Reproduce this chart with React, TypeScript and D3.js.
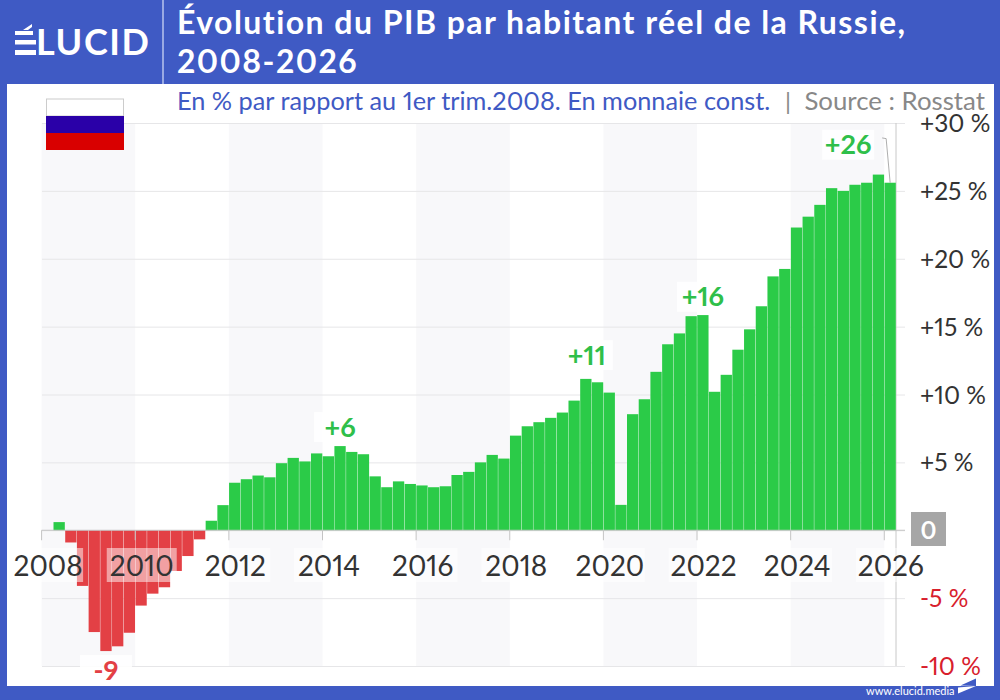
import * as d3 from "d3";
import { useEffect, useRef } from "react";

const years = [2008, 2010, 2012, 2014, 2016, 2018, 2020, 2022, 2024, 2026];
const quarters = d3.range(2008, 2027).flatMap((y) =>
  ["Q1", "Q2", "Q3", "Q4"].map((q) => `${y}${q}`)
).slice(0, 73);
const values = [
  0, 0.6, -0.9, -4.1,
  -7.5, -8.9, -8.55, -7.55,
  -5.55, -4.67, -4.2, -3.0,
  -1.9, -0.67, 0.7, 1.85,
  3.5, 3.76, 4.03, 3.9,
  4.94, 5.33, 5.07, 5.66,
  5.45, 6.2, 5.77, 5.6,
  3.97, 3.17, 3.6, 3.41,
  3.3, 3.17, 3.24, 4.07,
  4.3, 5.0, 5.55, 5.28,
  6.97, 7.66, 7.96, 8.28,
  8.67, 9.55, 11.15, 10.9,
  10.14, 1.87, 8.55, 9.65,
  11.67, 13.7, 14.5, 15.77,
  15.85, 10.2, 11.45, 13.3,
  14.8, 16.5, 18.7, 19.25,
  22.3, 23.1, 23.97, 25.2,
  25.0, 25.45, 25.6, 26.2,
  25.6,
];
const yTicks = [30, 25, 20, 15, 10, 5, -5, -10];
const peaks = [
  { q: "2009Q2", text: "-9", dx: 0, y: -10.3 },
  { q: "2014Q2", text: "+6", dx: 0, y: 7.6 },
  { q: "2019Q3", text: "+11", dx: 1, y: 12.9 },
  { q: "2022Q1", text: "+16", dx: 0, y: 17.2 },
  { q: "2026Q1", text: "+26", dx: -42, y: 28.4 },
];

const width = 1000;
const height = 700;
const blue = "#3f5ac4";
const green = "#2bcb48";
const red = "#e34045";
const font = "Lato, sans-serif";

export default function App() {
  const ref = useRef<SVGSVGElement>(null);

  useEffect(() => {
    const svg = d3.select(ref.current);
    svg.selectAll("*").remove();
    svg.style("font-variant-numeric", "proportional-nums").style("font-variant-ligatures", "none");

    const x = d3.scaleBand(quarters, [41.6, 896]);
    const y = d3.scaleLinear([-10, 30], [666, 123]);

    svg.append("rect").attr("width", width).attr("height", height).attr("fill", blue);
    svg.append("rect").attr("x", 7).attr("y", 84).attr("width", 987).attr("height", 602).attr("fill", "#fff");
    svg.append("line").attr("x1", 163).attr("x2", 163).attr("y1", 0).attr("y2", 84).attr("stroke", "#b9c5ee").attr("stroke-width", 1.5);

    // logo
    const logo = svg.append("g").attr("fill", "#fff");
    logo.append("path").attr("d", "M15 31 H33 V35 H15 Z M23 30 L32 24 V27 L28 30 Z M15 40 H36 V44.5 H15 Z M15 50 H36 V55 H15 Z");
    logo.append("text").attr("x", 36).attr("y", 55).attr("font-family", font).attr("font-weight", 700)
      .attr("font-size", 36).attr("letter-spacing", 1.6).text("LUCID");

    // title
    const title = svg.append("g").attr("fill", "#fff").attr("font-family", font).attr("font-weight", 700)
      .attr("font-size", 32).attr("letter-spacing", 1.45);
    title.append("text").attr("x", 177).attr("y", 34).text("Évolution du PIB par habitant réel de la Russie,");
    title.append("text").attr("x", 177).attr("y", 72.5).text("2008-2026");

    svg.append("text").attr("x", 177).attr("y", 110).attr("font-family", font).attr("font-size", 25.3).attr("fill", blue)
      .text("En % par rapport au 1er trim.2008. En monnaie const.");
    svg.append("text").attr("x", 785).attr("y", 110).attr("font-family", font).attr("font-size", 24).attr("fill", "#888").text("|");
    svg.append("text").attr("x", 985).attr("y", 110).attr("text-anchor", "end").attr("font-family", font).attr("font-size", 25.8).attr("fill", "#888")
      .text("Source : Rosstat");

    // alternating year bands
    svg.append("g").selectAll("rect").data(years.slice(0, -1).filter((_, i) => i % 2 === 0)).join("rect")
      .attr("x", (d) => x(`${d}Q1`)!)
      .attr("width", x.bandwidth() * 8)
      .attr("y", y(30)).attr("height", y(-10) - y(30))
      .attr("fill", "#f8f8fa");

    // y grid and labels
    const axis = svg.append("g").attr("transform", "translate(905,0)")
      .call(d3.axisLeft(y).tickValues([...yTicks, 0]).tickSize(863).tickFormat(() => ""));
    axis.select(".domain").remove();
    axis.selectAll("line").attr("stroke", "#e6e6e8");

    svg.append("line").attr("x1", 896).attr("x2", 896).attr("y1", y(30)).attr("y2", y(-10)).attr("stroke", "#c8c8c8");

    svg.append("g").selectAll("text").data(yTicks).join("text")
      .attr("x", 920).attr("y", (d) => y(d) + 9)
      .attr("font-family", font).attr("font-size", 24.5)
      .attr("fill", (d) => (d < 0 ? "#d8202c" : "#333"))
      .text((d) => `${d > 0 ? "+" : ""}${d} %`);

    // bars
    svg.append("g").selectAll("rect").data(quarters).join("rect")
      .attr("x", (d) => x(d)! + 0.2)
      .attr("width", x.bandwidth() - 0.4)
      .attr("y", (_, i) => y(Math.max(values[i], 0)))
      .attr("height", (_, i) => Math.abs(y(values[i]) - y(0)))
      .attr("fill", (_, i) => (values[i] < 0 ? red : green));

    // zero line and year ticks
    svg.append("line").attr("x1", 41.6).attr("x2", 905).attr("y1", y(0)).attr("y2", y(0)).attr("stroke", "#c4c4c4");
    svg.append("g").selectAll("line").data(years).join("line")
      .attr("x1", (d) => x(`${d}Q1`)!).attr("x2", (d) => x(`${d}Q1`)!)
      .attr("y1", y(0)).attr("y2", y(0) + 10)
      .attr("stroke", "#c4c4c4");

    // year labels
    const yearLabel = svg.append("g").selectAll("g").data(years).join("g")
      .attr("transform", (d) => `translate(${x(`${d}Q1`)! + 6.5},0)`);
    yearLabel.append("rect").attr("x", -35).attr("width", 70).attr("y", 548).attr("height", 34)
      .attr("fill", "#fff").attr("fill-opacity", 0.5);
    yearLabel.append("text").attr("text-anchor", "middle").attr("y", 576)
      .attr("font-family", font).attr("font-size", 28).attr("fill", "#333")
      .text((d) => d);

    // zero badge
    svg.append("rect").attr("x", 911).attr("y", 512).attr("width", 35).attr("height", 34).attr("fill", "#a6a6a6");
    svg.append("text").attr("x", 928.5).attr("y", 539).attr("text-anchor", "middle")
      .attr("font-family", font).attr("font-weight", 700).attr("font-size", 24).attr("fill", "#fff").text("0");

    // peak labels
    const peak = svg.append("g").selectAll("g").data(peaks).join("g")
      .attr("transform", (d) => `translate(${x(d.q)! + x.bandwidth() / 2 + d.dx},${y(d.y)})`);
    peak.append("rect").attr("x", -26).attr("width", 52).attr("y", -15).attr("height", 30).attr("fill", "#fff").attr("fill-opacity", 0.85);
    peak.append("text").attr("text-anchor", "middle").attr("y", 9.5)
      .attr("font-family", font).attr("font-weight", 700).attr("font-size", 27)
      .attr("fill", (d) => (d.text.startsWith("-") ? red : "#2fbf4a"))
      .text((d) => d.text);

    // leader for the last value
    const last = x("2026Q1")! + x.bandwidth() / 2;
    svg.append("path").attr("fill", "none").attr("stroke", "#999").attr("stroke-width", 0.8)
      .attr("d", d3.line()([[last - 8, y(28.9)], [last - 4, y(28.85)], [last, y(25.6)]]));

    // flag
    const flag = svg.append("g");
    flag.append("rect").attr("x", 46.5).attr("y", 99).attr("width", 77).attr("height", 17).attr("fill", "#fff").attr("stroke", "#ccc");
    flag.append("rect").attr("x", 46).attr("y", 116).attr("width", 78).attr("height", 17).attr("fill", "#2a00a8");
    flag.append("rect").attr("x", 46).attr("y", 133).attr("width", 78).attr("height", 17).attr("fill", "#d90000");

    // footer
    svg.append("text").attr("x", 866).attr("y", 695).attr("font-family", font).attr("font-size", 11).attr("fill", "#fff").text("www.elucid.media");
    svg.append("path").attr("fill", "#fff").attr("d", "M958 687.5 L976 686 L958 693.5 Z");
    svg.append("path").attr("fill", blue).attr("d", "M960.5 685.5 L976 678.5 L976 686 Z");
  }, []);

  return (
    <svg
      ref={ref}
      width={width}
      height={height}
      style={{ position: "absolute", left: 0, top: 0 }}
    />
  );
}
